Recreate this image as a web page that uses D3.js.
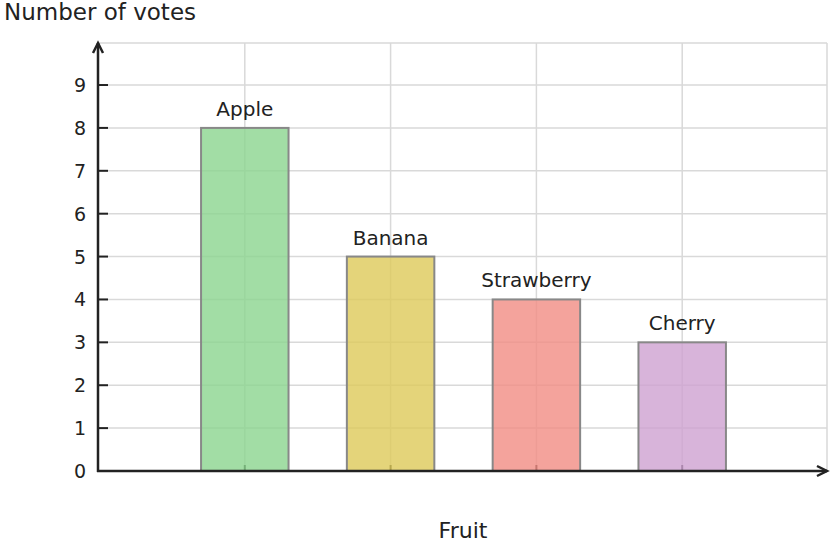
<!DOCTYPE html>
<html>
<head>
<meta charset="utf-8">
<script src="https://cdn.jsdelivr.net/npm/d3@7"></script>
<style>
  body { margin: 0; background: #fff; }
  text { font-family: "DejaVu Sans", sans-serif; fill: #222; }
</style>
</head>
<body>
<svg id="chart"></svg>
<script>
// data
const fruits = ["Apple", "Banana", "Strawberry", "Cherry"];
const votes = [8, 5, 4, 3];
const barColors = ["#8bd48e", "#ddc959", "#f18c83", "#cea1d1"];
const yTicks = [0, 1, 2, 3, 4, 5, 6, 7, 8, 9];

const width = 831, height = 548;
const plotLeft = 98, plotRight = 827, plotTop = 43, plotBottom = 471;

const svg = d3.select("#chart").attr("width", width).attr("height", height);

// x: an empty slot before the first fruit and after the last
const x = d3.scalePoint()
    .domain(["", ...fruits, " "])
    .range([plotLeft + 1, plotRight + 1]);
const step = x.step();
const barW = step * 0.6;

const y = d3.scaleLinear().domain([0, 9.98]).range([plotBottom, plotTop]);

// grid
const grid = svg.append("g").attr("stroke", "#d9d9d9").attr("stroke-width", 1.5);
grid.selectAll(".hg")
    .data(yTicks.slice(1))
    .enter().append("line")
    .attr("x1", plotLeft).attr("x2", plotRight)
    .attr("y1", d => y(d)).attr("y2", d => y(d));
grid.append("line").attr("x1", plotLeft).attr("x2", plotRight).attr("y1", plotTop).attr("y2", plotTop);
grid.selectAll(".vg")
    .data(fruits)
    .enter().append("line")
    .attr("x1", d => x(d)).attr("x2", d => x(d))
    .attr("y1", plotTop).attr("y2", plotBottom);
grid.append("line").attr("x1", plotRight).attr("x2", plotRight).attr("y1", plotTop).attr("y2", plotBottom);

// x ticks (inside)
svg.selectAll(".xt")
    .data(fruits)
    .enter().append("line")
    .attr("x1", d => x(d)).attr("x2", d => x(d))
    .attr("y1", plotBottom).attr("y2", plotBottom - 6)
    .attr("stroke", "#222").attr("stroke-width", 2);

// bars
svg.selectAll(".bar")
    .data(fruits)
    .enter().append("rect")
    .attr("x", d => x(d) - barW / 2)
    .attr("y", (d, i) => y(votes[i]))
    .attr("width", barW)
    .attr("height", (d, i) => plotBottom - y(votes[i]))
    .attr("fill", (d, i) => barColors[i])
    .attr("fill-opacity", 0.8)
    .attr("stroke", "#888")
    .attr("stroke-width", 2);

// bar labels
svg.selectAll(".lbl")
    .data(fruits)
    .enter().append("text")
    .attr("x", d => x(d))
    .attr("y", (d, i) => y(votes[i]) - 12)
    .attr("text-anchor", "middle")
    .style("font-size", "20px")
    .text(d => d);

// y ticks and labels
svg.selectAll(".yt")
    .data(yTicks.slice(1))
    .enter().append("line")
    .attr("x1", plotLeft).attr("x2", plotLeft + 10)
    .attr("y1", d => y(d)).attr("y2", d => y(d))
    .attr("stroke", "#222").attr("stroke-width", 2);
svg.selectAll(".yl")
    .data(yTicks)
    .enter().append("text")
    .attr("x", 86)
    .attr("y", d => y(d) + 7)
    .attr("text-anchor", "end")
    .style("font-size", "19px")
    .text(d => d);

// axes with arrows
const axis = svg.append("g").attr("stroke", "#222").attr("stroke-width", 2.5).attr("fill", "none");
axis.append("line").attr("x1", plotLeft).attr("x2", plotLeft).attr("y1", plotBottom + 1).attr("y2", plotTop);
axis.append("path").attr("d", `M${plotLeft - 5},${plotTop + 10} L${plotLeft},${plotTop} L${plotLeft + 5},${plotTop + 10}`);
axis.append("line").attr("x1", plotLeft - 1).attr("x2", plotRight).attr("y1", plotBottom).attr("y2", plotBottom);
axis.append("path").attr("d", `M${plotRight - 10},${plotBottom - 5} L${plotRight},${plotBottom} L${plotRight - 10},${plotBottom + 5}`);

// axis titles
svg.append("text").attr("x", 4).attr("y", 20)
    .style("font-size", "23px").text("Number of votes");
svg.append("text").attr("x", 463).attr("y", 538)
    .attr("text-anchor", "middle")
    .style("font-size", "22px").text("Fruit");
</script>
</body>
</html>
